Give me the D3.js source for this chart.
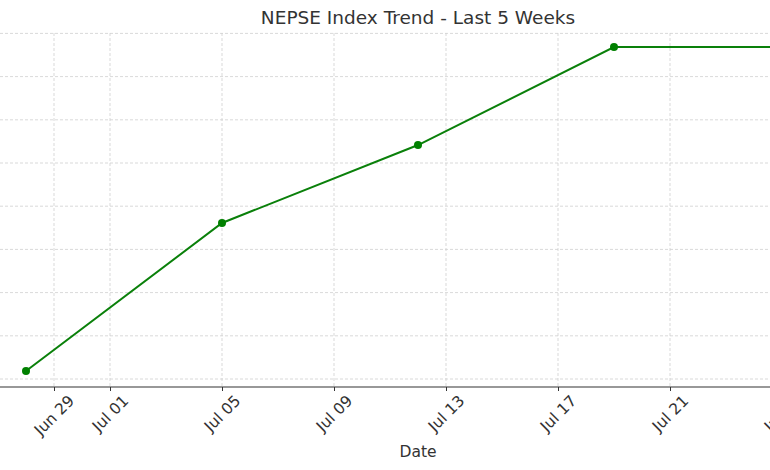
<!DOCTYPE html>
<html>
<head>
<meta charset="utf-8">
<script src="https://cdn.jsdelivr.net/npm/d3@7"></script>
<style>
  html, body { margin: 0; padding: 0; background: #fff; }
  svg { display: block; font-family: "DejaVu Sans", sans-serif; }
</style>
</head>
<body>
<div id="chart"></div>
<script>
// weekly closing dates and NEPSE index values
const dates = ['2025-06-28', '2025-07-05', '2025-07-12', '2025-07-19', '2025-07-26'];
const nepseValues = [2604.6, 2690.3, 2735.4, 2792.1, 2792.1];
const xTickDates = ['2025-06-29', '2025-07-01', '2025-07-05', '2025-07-09', '2025-07-13', '2025-07-17', '2025-07-21', '2025-07-25'];
const yTickValues = [2600, 2625, 2650, 2675, 2700, 2725, 2750, 2775, 2800];

const parse = d3.timeParse('%Y-%m-%d');
const data = dates.map((d, i) => ({ date: parse(d), value: nepseValues[i] }));

const width = 770, height = 470;
const plotBottom = 387;

const svg = d3.select('#chart')
  .append('svg')
  .attr('width', width)
  .attr('height', height);

// scales (the plot is wider than the window, so its left axis is off-screen)
const x = d3.scaleTime()
  .domain([parse('2025-06-28'), parse('2025-07-26')])
  .range([26, 26 + 28 * 28]);

const y = d3.scaleLinear()
  .domain([2600, 2800])
  .range([379, 33.4]);

// grid
const grid = svg.append('g');
grid.selectAll('.hgrid')
  .data(yTickValues)
  .enter()
  .append('line')
  .attr('x1', 0).attr('x2', width)
  .attr('y1', d => y(d)).attr('y2', d => y(d))
  .attr('stroke', '#cfcfcf')
  .attr('stroke-width', 0.8)
  .attr('stroke-dasharray', '3,2');

grid.selectAll('.vgrid')
  .data(xTickDates.map(parse))
  .enter()
  .append('line')
  .attr('x1', d => x(d)).attr('x2', d => x(d))
  .attr('y1', 33).attr('y2', plotBottom)
  .attr('stroke', '#cfcfcf')
  .attr('stroke-width', 0.8)
  .attr('stroke-dasharray', '3,2');

// x axis
const xAxis = svg.append('g')
  .attr('transform', `translate(0,${plotBottom})`)
  .call(d3.axisBottom(x)
    .tickValues(xTickDates.map(parse))
    .tickFormat(d3.timeFormat('%b %d'))
    .tickSizeInner(4)
    .tickSizeOuter(0));

xAxis.attr('font-size', 15.5).attr('font-family', '"DejaVu Sans", sans-serif');
xAxis.select('.domain').remove();
xAxis.append('line')
  .attr('x1', 0).attr('x2', width)
  .attr('stroke', '#333').attr('stroke-width', 1.2);
xAxis.selectAll('.tick line').attr('stroke', '#333').attr('stroke-width', 1);

xAxis.selectAll('.tick text')
  .attr('fill', '#333')
  .attr('font-size', 15.5)
  .attr('text-anchor', 'middle')
  .attr('dominant-baseline', 'central')
  .attr('dy', null)
  .attr('y', null)
  .attr('transform', function () {
    const L = this.getComputedTextLength();
    const h = (L + 12) * Math.SQRT1_2;
    return `translate(0,${7 + h / 2}) rotate(-45)`;
  });

// line
const line = d3.line()
  .x(d => x(d.date))
  .y(d => y(d.value));

svg.append('path')
  .datum(data)
  .attr('fill', 'none')
  .attr('stroke', '#0a800a')
  .attr('stroke-width', 2)
  .attr('d', line);

svg.selectAll('.dot')
  .data(data)
  .enter()
  .append('circle')
  .attr('cx', d => x(d.date))
  .attr('cy', d => y(d.value))
  .attr('r', 4)
  .attr('fill', '#008000');

// title and axis label
svg.append('text')
  .attr('x', 418)
  .attr('y', 24)
  .attr('text-anchor', 'middle')
  .attr('font-size', 18.5)
  .attr('fill', '#333')
  .text('NEPSE Index Trend - Last 5 Weeks');

svg.append('text')
  .attr('x', 418)
  .attr('y', 457)
  .attr('text-anchor', 'middle')
  .attr('font-size', 15.5)
  .attr('fill', '#333')
  .text('Date');
</script>
</body>
</html>
